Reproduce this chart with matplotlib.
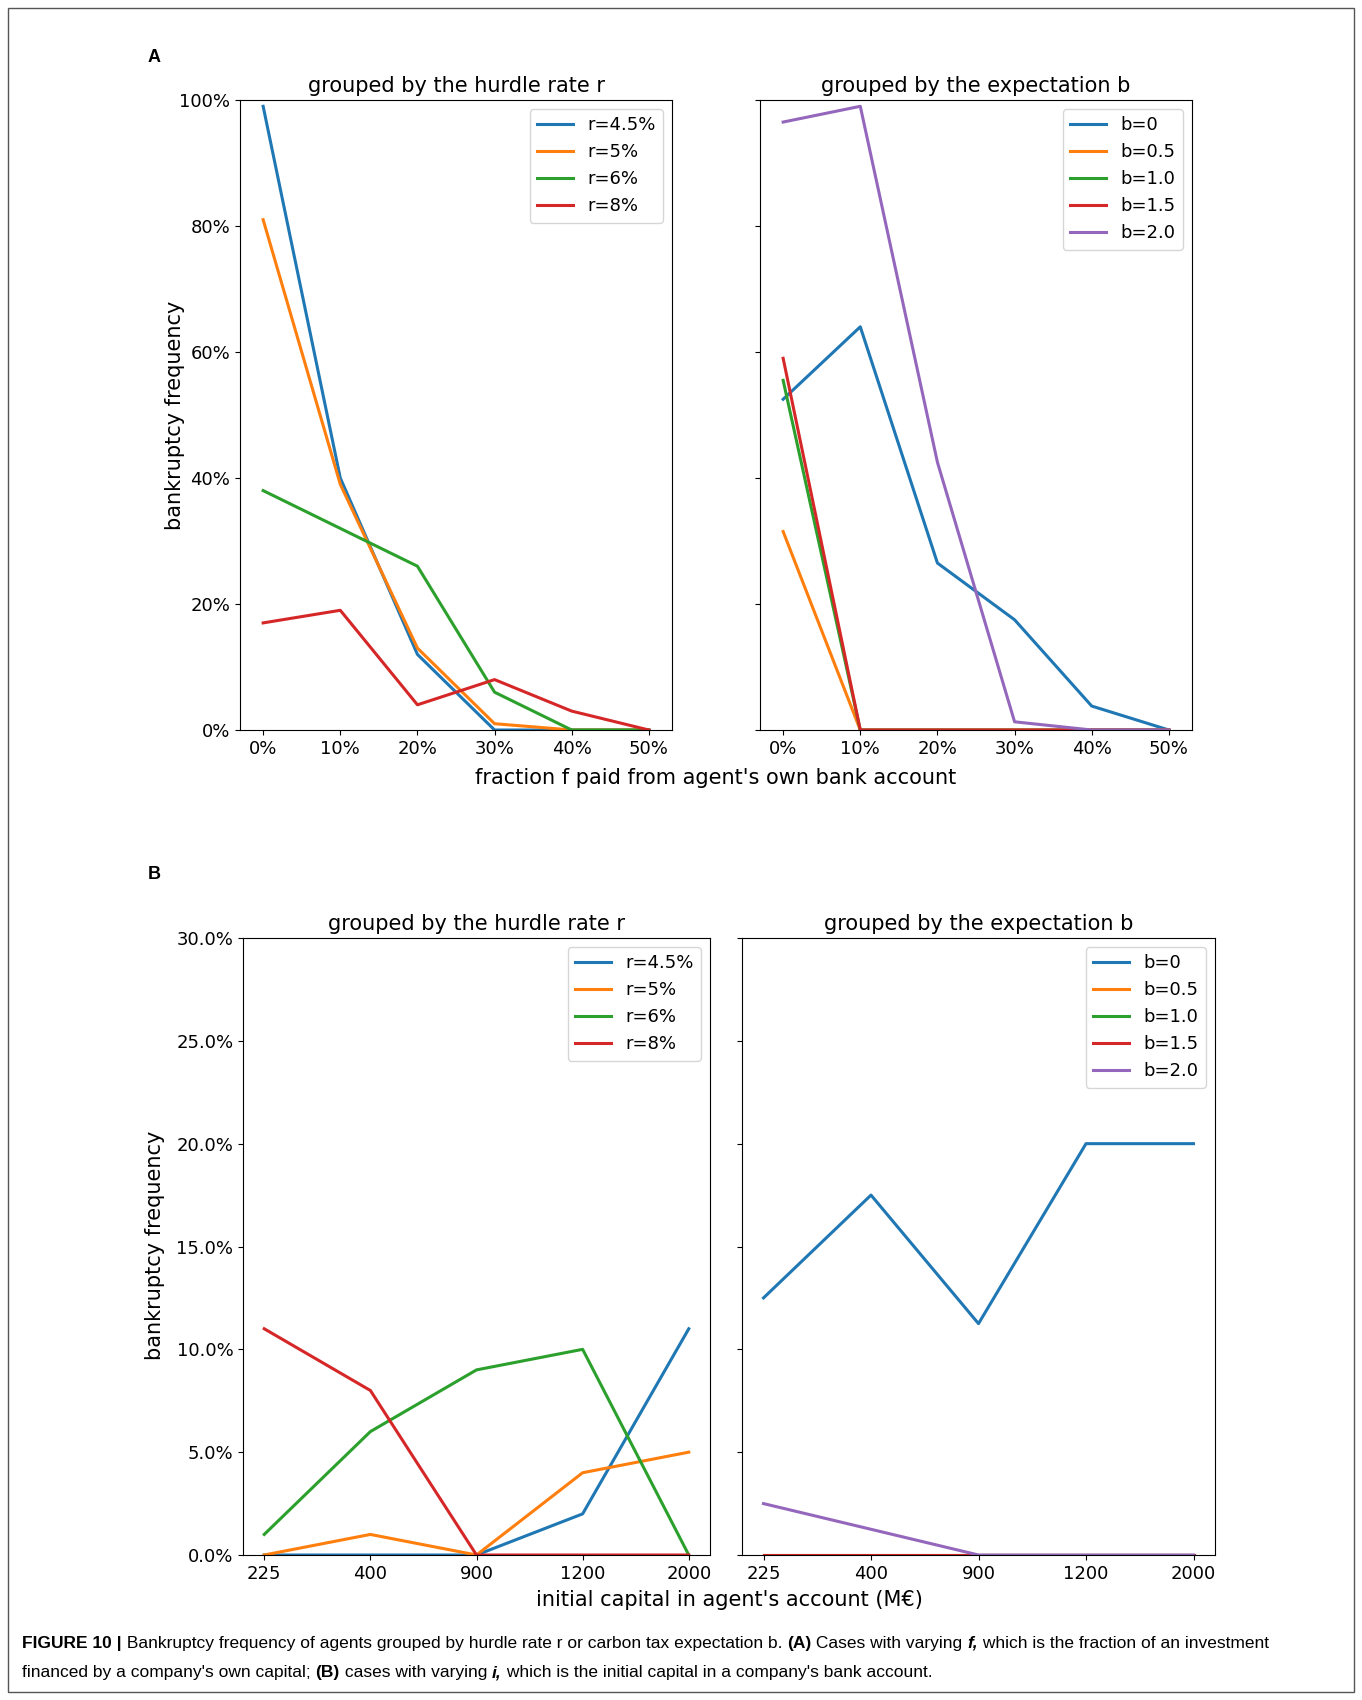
import numpy as np
import matplotlib.pyplot as plt
from matplotlib.ticker import PercentFormatter
from matplotlib.patches import Rectangle

# Data panel A
f_ticks = ["0%", "10%", "20%", "30%", "40%", "50%"]
r_labels = ["r=4.5%", "r=5%", "r=6%", "r=8%"]
a_r45 = [99, 40, 12, 0, 0, 0]
a_r5 = [81, 39, 13, 1, 0, 0]
a_r6 = [38, 32, 26, 6, 0, 0]
a_r8 = [17, 19, 4, 8, 3, 0]
b_labels = ["b=0", "b=0.5", "b=1.0", "b=1.5", "b=2.0"]
a_b0 = [52.5, 64, 26.5, 17.5, 3.8, 0]
a_b05 = [31.5, 0, 0, 0, 0, 0]
a_b10 = [55.5, 0, 0, 0, 0, 0]
a_b15 = [59, 0, 0, 0, 0, 0]
a_b20 = [96.5, 99, 42.5, 1.3, 0, 0]

# Data panel B
cap_ticks = ["225", "400", "900", "1200", "2000"]
b_r45 = [0, 0, 0, 2, 11]
b_r5 = [0, 1, 0, 4, 5]
b_r6 = [1, 6, 9, 10, 0]
b_r8 = [11, 8, 0, 0, 0]
b_b0 = [12.5, 17.5, 11.25, 20, 20]
b_b05 = [0, 0, 0, 0, 0]
b_b10 = [0, 0, 0, 0, 0]
b_b15 = [0, 0, 0, 0, 0]
b_b20 = [2.5, 1.25, 0, 0, 0]

W, H = 1362, 1700
fig = plt.figure(figsize=(W / 100, H / 100), dpi=100)
fs = 13

def ax_at(x0, x1, y0, y1):
    return fig.add_axes([x0 / W, 1 - y1 / H, (x1 - x0) / W, (y1 - y0) / H])

def draw(ax, series, labels, ticks, title, ymax, fmt_dec, show_y):
    x = np.arange(len(ticks))
    for s, lab in zip(series, labels):
        ax.plot(x, s, lw=2.2, label=lab)
    ax.set_xticks(x)
    ax.set_xticklabels(ticks, fontsize=fs)
    ax.set_ylim(0, ymax)
    ax.yaxis.set_major_formatter(PercentFormatter(decimals=fmt_dec))
    ax.tick_params(labelsize=fs)
    if not show_y:
        ax.tick_params(labelleft=False)
    ax.set_title(title, fontsize=15)
    ax.legend(fontsize=fs, loc="upper right")

# Panel A
axA1 = ax_at(240, 672, 100, 730)
axA2 = ax_at(760, 1192, 100, 730)
draw(axA1, [a_r45, a_r5, a_r6, a_r8], r_labels, f_ticks, "grouped by the hurdle rate r", 100, 0, True)
draw(axA2, [a_b0, a_b05, a_b10, a_b15, a_b20], b_labels, f_ticks, "grouped by the expectation b", 100, 0, False)
axA1.set_xlim(-0.3, 5.3); axA2.set_xlim(-0.3, 5.3)
axA1.set_ylim(0, 100); axA2.set_ylim(0, 100)
fig.text(175 / W, 1 - 415 / H, "bankruptcy frequency", rotation=90, ha="center", va="center", fontsize=15)
fig.text(716 / W, 1 - 778 / H, "fraction f paid from agent's own bank account", ha="center", va="center", fontsize=15)

# Panel B
axB1 = ax_at(243, 710, 938, 1555)
axB2 = ax_at(742, 1215, 938, 1555)
draw(axB1, [b_r45, b_r5, b_r6, b_r8], r_labels, cap_ticks, "grouped by the hurdle rate r", 30, 1, True)
draw(axB2, [b_b0, b_b05, b_b10, b_b15, b_b20], b_labels, cap_ticks, "grouped by the expectation b", 30, 1, False)
fig.text(155 / W, 1 - 1245 / H, "bankruptcy frequency", rotation=90, ha="center", va="center", fontsize=15)
fig.text(729 / W, 1 - 1600 / H, "initial capital in agent's account (M€)", ha="center", va="center", fontsize=15)

fig.text(148 / W, 1 - 58 / H, "A", fontsize=13, fontweight="bold", family="Liberation Sans", va="center")
fig.text(148 / W, 1 - 874 / H, "B", fontsize=13, fontweight="bold", family="Liberation Sans", va="center")

# frame
fig.patches.append(Rectangle((8 / W, 8 / H), 1 - 16 / W, 1 - 16 / H, transform=fig.transFigure,
                             fill=False, edgecolor="#555555", lw=1))

# caption with mixed bold/italic pieces
def caption_line(pieces, x, y):
    r = fig.canvas.get_renderer()
    for txt, w, st in pieces:
        t = fig.text(x / W, 1 - y / H, txt, fontsize=12.5, family="Liberation Sans",
                     fontweight=w, fontstyle=st, va="baseline")
        bb = t.get_window_extent(renderer=r)
        x += bb.width

caption_line([("FIGURE 10 |", "bold", "normal"),
              (" Bankruptcy frequency of agents grouped by hurdle rate r or carbon tax expectation b. ", "normal", "normal"),
              ("(A)", "bold", "normal"),
              (" Cases with varying ", "normal", "normal"),
              ("f,", "bold", "italic"),
              (" which is the fraction of an investment", "normal", "normal")], 22, 1648)
caption_line([("financed by a company's own capital; ", "normal", "normal"),
              ("(B)", "bold", "normal"),
              (" cases with varying ", "normal", "normal"),
              ("i,", "bold", "italic"),
              (" which is the initial capital in a company's bank account.", "normal", "normal")], 22, 1677)

fig.savefig("out.png", dpi=100)
